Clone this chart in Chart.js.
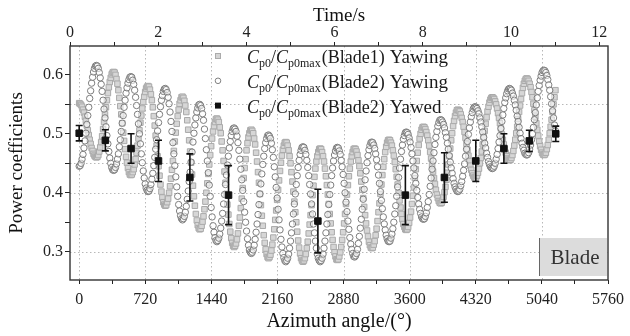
<!DOCTYPE html>
<html>
<head>
<meta charset="utf-8">
<script src="https://cdn.jsdelivr.net/npm/chart.js@4.4.0/dist/chart.umd.min.js"></script>
<style>
  html, body { margin: 0; padding: 0; background: #fff; }
  #chart { display: block; }
</style>
</head>
<body>
<canvas id="chart" width="630" height="336"></canvas>
<script>
// Azimuth between two samples of the yawing series (36 samples per oscillation)
var sampleStep = 375 / 36;

// Cp0/Cp0max (Blade1) Yawing - grey squares, one half oscillation per line
var blade1Yawing = [
    0.552, 0.551, 0.549, 0.546, 0.541, 0.536, 0.529, 0.522, 0.514, 0.506, 0.498, 0.490, 0.483, 0.476, 0.471, 0.466, 0.463, 0.461,
    0.460, 0.461, 0.464, 0.470, 0.477, 0.486, 0.496, 0.508, 0.520, 0.533, 0.545, 0.557, 0.569, 0.579, 0.588, 0.595, 0.601, 0.604,
    0.605, 0.604, 0.600, 0.593, 0.585, 0.574, 0.561, 0.547, 0.533, 0.518, 0.502, 0.488, 0.474, 0.461, 0.451, 0.442, 0.435, 0.431,
    0.430, 0.431, 0.435, 0.440, 0.448, 0.457, 0.468, 0.480, 0.492, 0.506, 0.519, 0.531, 0.543, 0.554, 0.563, 0.571, 0.577, 0.580,
    0.581, 0.580, 0.575, 0.567, 0.557, 0.545, 0.530, 0.514, 0.497, 0.480, 0.462, 0.445, 0.429, 0.414, 0.402, 0.392, 0.384, 0.380,
    0.378, 0.379, 0.384, 0.390, 0.400, 0.411, 0.424, 0.439, 0.454, 0.471, 0.487, 0.502, 0.517, 0.530, 0.541, 0.551, 0.557, 0.562,
    0.563, 0.561, 0.556, 0.548, 0.537, 0.523, 0.507, 0.489, 0.470, 0.451, 0.431, 0.412, 0.394, 0.378, 0.364, 0.353, 0.345, 0.340,
    0.338, 0.339, 0.344, 0.351, 0.360, 0.372, 0.385, 0.400, 0.416, 0.432, 0.448, 0.464, 0.479, 0.492, 0.504, 0.513, 0.520, 0.525,
    0.526, 0.524, 0.520, 0.511, 0.501, 0.487, 0.472, 0.454, 0.436, 0.417, 0.398, 0.380, 0.363, 0.347, 0.334, 0.323, 0.315, 0.310,
    0.308, 0.310, 0.314, 0.321, 0.331, 0.344, 0.358, 0.374, 0.390, 0.408, 0.425, 0.442, 0.457, 0.472, 0.484, 0.494, 0.501, 0.506,
    0.507, 0.505, 0.501, 0.492, 0.482, 0.468, 0.453, 0.435, 0.417, 0.398, 0.379, 0.361, 0.344, 0.328, 0.315, 0.304, 0.296, 0.291,
    0.289, 0.291, 0.295, 0.302, 0.312, 0.324, 0.338, 0.354, 0.370, 0.388, 0.405, 0.421, 0.437, 0.451, 0.463, 0.473, 0.480, 0.485,
    0.486, 0.485, 0.480, 0.472, 0.462, 0.450, 0.435, 0.419, 0.402, 0.385, 0.367, 0.350, 0.334, 0.319, 0.307, 0.297, 0.289, 0.285,
    0.283, 0.285, 0.289, 0.296, 0.306, 0.317, 0.331, 0.346, 0.362, 0.379, 0.396, 0.412, 0.427, 0.441, 0.453, 0.462, 0.469, 0.474,
    0.475, 0.474, 0.469, 0.462, 0.453, 0.441, 0.428, 0.413, 0.397, 0.381, 0.364, 0.348, 0.333, 0.320, 0.308, 0.299, 0.292, 0.287,
    0.286, 0.287, 0.292, 0.299, 0.308, 0.320, 0.333, 0.348, 0.364, 0.381, 0.397, 0.413, 0.428, 0.441, 0.453, 0.462, 0.469, 0.474,
    0.475, 0.474, 0.470, 0.464, 0.455, 0.445, 0.433, 0.419, 0.405, 0.391, 0.376, 0.362, 0.348, 0.336, 0.326, 0.317, 0.311, 0.307,
    0.306, 0.307, 0.312, 0.318, 0.328, 0.339, 0.352, 0.367, 0.382, 0.398, 0.414, 0.430, 0.444, 0.457, 0.469, 0.478, 0.485, 0.489,
    0.490, 0.489, 0.485, 0.480, 0.472, 0.463, 0.452, 0.440, 0.427, 0.414, 0.400, 0.387, 0.375, 0.364, 0.355, 0.347, 0.342, 0.338,
    0.337, 0.338, 0.342, 0.349, 0.358, 0.368, 0.381, 0.395, 0.409, 0.425, 0.440, 0.454, 0.468, 0.481, 0.492, 0.500, 0.507, 0.511,
    0.512, 0.511, 0.508, 0.503, 0.497, 0.489, 0.480, 0.469, 0.458, 0.447, 0.436, 0.425, 0.415, 0.405, 0.397, 0.391, 0.386, 0.383,
    0.382, 0.383, 0.387, 0.393, 0.401, 0.410, 0.422, 0.434, 0.448, 0.462, 0.475, 0.489, 0.501, 0.513, 0.522, 0.530, 0.536, 0.540,
    0.541, 0.540, 0.538, 0.533, 0.527, 0.520, 0.512, 0.503, 0.493, 0.483, 0.473, 0.463, 0.454, 0.446, 0.439, 0.433, 0.429, 0.426,
    0.425, 0.426, 0.429, 0.434, 0.441, 0.450, 0.459, 0.470, 0.482, 0.494, 0.505, 0.517, 0.528, 0.538, 0.546, 0.553, 0.558, 0.561,
    0.562, 0.561, 0.559, 0.555, 0.550, 0.543, 0.535, 0.527, 0.518, 0.509, 0.499, 0.490, 0.482, 0.474, 0.468, 0.462, 0.458, 0.456,
    0.455, 0.456, 0.459, 0.464, 0.471, 0.480, 0.490, 0.501, 0.512, 0.525, 0.537, 0.548, 0.559, 0.569, 0.578, 0.585, 0.590, 0.593,
    0.594, 0.593, 0.590, 0.585, 0.579, 0.571, 0.562, 0.551, 0.540, 0.529, 0.518, 0.507, 0.497, 0.487, 0.479, 0.473, 0.468, 0.465,
    0.464, 0.465, 0.468, 0.474, 0.481, 0.490, 0.501, 0.512, 0.524, 0.537, 0.550, 0.562, 0.574
];

// Cp0/Cp0max (Blade2) Yawing - open circles, one half oscillation per line
var blade2Yawing = [
    0.445, 0.446, 0.450, 0.457, 0.465, 0.476, 0.488, 0.501, 0.516, 0.531, 0.545, 0.560, 0.573, 0.586, 0.596, 0.605, 0.611, 0.615,
    0.616, 0.615, 0.611, 0.604, 0.595, 0.584, 0.572, 0.557, 0.542, 0.527, 0.512, 0.497, 0.483, 0.470, 0.459, 0.450, 0.443, 0.439,
    0.438, 0.439, 0.443, 0.449, 0.457, 0.466, 0.478, 0.490, 0.504, 0.518, 0.531, 0.545, 0.557, 0.569, 0.578, 0.586, 0.592, 0.596,
    0.597, 0.596, 0.591, 0.584, 0.574, 0.562, 0.548, 0.533, 0.517, 0.500, 0.483, 0.466, 0.451, 0.437, 0.425, 0.415, 0.408, 0.404,
    0.402, 0.403, 0.407, 0.414, 0.423, 0.433, 0.446, 0.460, 0.474, 0.490, 0.505, 0.519, 0.533, 0.546, 0.557, 0.565, 0.572, 0.576,
    0.577, 0.575, 0.570, 0.562, 0.551, 0.537, 0.521, 0.504, 0.485, 0.466, 0.446, 0.427, 0.410, 0.394, 0.380, 0.369, 0.361, 0.356,
    0.354, 0.356, 0.360, 0.367, 0.377, 0.389, 0.403, 0.419, 0.435, 0.452, 0.469, 0.486, 0.501, 0.515, 0.527, 0.537, 0.544, 0.549,
    0.550, 0.548, 0.543, 0.534, 0.523, 0.508, 0.492, 0.473, 0.454, 0.434, 0.413, 0.394, 0.375, 0.359, 0.344, 0.333, 0.324, 0.319,
    0.317, 0.319, 0.323, 0.330, 0.340, 0.352, 0.365, 0.381, 0.397, 0.414, 0.430, 0.447, 0.462, 0.476, 0.487, 0.497, 0.504, 0.509,
    0.510, 0.508, 0.504, 0.496, 0.485, 0.472, 0.457, 0.440, 0.422, 0.404, 0.385, 0.367, 0.350, 0.335, 0.322, 0.311, 0.303, 0.299,
    0.297, 0.299, 0.303, 0.311, 0.321, 0.333, 0.347, 0.363, 0.380, 0.398, 0.415, 0.432, 0.448, 0.462, 0.475, 0.485, 0.492, 0.497,
    0.498, 0.496, 0.492, 0.484, 0.473, 0.460, 0.444, 0.427, 0.409, 0.391, 0.372, 0.354, 0.337, 0.321, 0.308, 0.297, 0.290, 0.285,
    0.283, 0.285, 0.289, 0.296, 0.306, 0.318, 0.332, 0.347, 0.364, 0.381, 0.398, 0.414, 0.429, 0.443, 0.455, 0.465, 0.472, 0.477,
    0.478, 0.477, 0.472, 0.465, 0.455, 0.443, 0.429, 0.414, 0.398, 0.381, 0.364, 0.347, 0.332, 0.318, 0.306, 0.296, 0.289, 0.285,
    0.283, 0.285, 0.289, 0.296, 0.306, 0.318, 0.332, 0.347, 0.363, 0.380, 0.397, 0.413, 0.429, 0.442, 0.454, 0.464, 0.471, 0.476,
    0.477, 0.476, 0.471, 0.465, 0.455, 0.444, 0.431, 0.416, 0.400, 0.384, 0.368, 0.352, 0.338, 0.324, 0.313, 0.304, 0.297, 0.292,
    0.291, 0.293, 0.297, 0.304, 0.314, 0.326, 0.340, 0.355, 0.372, 0.389, 0.406, 0.422, 0.437, 0.451, 0.463, 0.473, 0.480, 0.485,
    0.486, 0.485, 0.481, 0.475, 0.466, 0.456, 0.444, 0.430, 0.416, 0.402, 0.387, 0.373, 0.359, 0.347, 0.337, 0.328, 0.322, 0.318,
    0.317, 0.318, 0.323, 0.330, 0.339, 0.350, 0.364, 0.378, 0.394, 0.410, 0.426, 0.442, 0.457, 0.470, 0.481, 0.491, 0.497, 0.502,
    0.503, 0.502, 0.499, 0.493, 0.486, 0.477, 0.466, 0.454, 0.442, 0.429, 0.416, 0.404, 0.392, 0.381, 0.372, 0.365, 0.359, 0.356,
    0.355, 0.356, 0.360, 0.366, 0.375, 0.385, 0.397, 0.411, 0.425, 0.440, 0.454, 0.468, 0.482, 0.494, 0.504, 0.513, 0.519, 0.523,
    0.524, 0.523, 0.520, 0.516, 0.510, 0.502, 0.494, 0.484, 0.474, 0.463, 0.452, 0.442, 0.433, 0.424, 0.416, 0.410, 0.406, 0.403,
    0.402, 0.403, 0.406, 0.412, 0.419, 0.428, 0.438, 0.449, 0.462, 0.474, 0.487, 0.499, 0.510, 0.520, 0.529, 0.536, 0.542, 0.545,
    0.546, 0.545, 0.543, 0.539, 0.534, 0.527, 0.520, 0.512, 0.503, 0.494, 0.484, 0.476, 0.467, 0.460, 0.453, 0.448, 0.444, 0.442,
    0.441, 0.442, 0.445, 0.450, 0.457, 0.465, 0.475, 0.486, 0.497, 0.509, 0.521, 0.532, 0.543, 0.553, 0.561, 0.568, 0.573, 0.576,
    0.577, 0.576, 0.574, 0.569, 0.564, 0.557, 0.549, 0.540, 0.530, 0.521, 0.511, 0.501, 0.492, 0.484, 0.477, 0.472, 0.467, 0.465,
    0.464, 0.465, 0.468, 0.474, 0.481, 0.490, 0.500, 0.511, 0.524, 0.536, 0.549, 0.561, 0.572, 0.582, 0.591, 0.598, 0.604, 0.607,
    0.608, 0.607, 0.604, 0.599, 0.592, 0.583, 0.574, 0.563, 0.551, 0.539, 0.527, 0.515, 0.505
];

// Cp0/Cp0max (Blade2) Yawed - black squares with error bars
var yawedAzimuth = [0, 285, 565, 864, 1206, 1627, 2600, 3553, 3978, 4320, 4626, 4903, 5191];
var yawedMean = [0.501, 0.489, 0.475, 0.454, 0.426, 0.396, 0.352, 0.396, 0.426, 0.454, 0.475, 0.488, 0.500];
var yawedError = [0.013, 0.018, 0.025, 0.035, 0.040, 0.050, 0.054, 0.050, 0.042, 0.035, 0.025, 0.018, 0.013];

// Axis ticks
var azimuthTicks = [0, 360, 720, 1080, 1440, 1800, 2160, 2520, 2880, 3240, 3600, 3960, 4320, 4680, 5040, 5400, 5760];
var azimuthTickLabels = [0, 720, 1440, 2160, 2880, 3600, 4320, 5040, 5760];
var timeTicks = [0, 1, 2, 3, 4, 5, 6, 7, 8, 9, 10, 11, 12];
var timeTickLabels = [0, 2, 4, 6, 8, 10, 12];
var powerTicks = [0.3, 0.35, 0.4, 0.45, 0.5, 0.55, 0.6];
var powerTickLabels = [0.3, 0.4, 0.5, 0.6];
var gridPowerValues = [0.3, 0.4, 0.45, 0.55];
var gridAzimuthValues = [0, 720, 1440, 2160, 2880, 3600, 4320, 5040];

// Legend text
var legendBlades = ['(Blade1)', '(Blade2)', '(Blade2)'];
var legendStates = ['Yawing', 'Yawing', 'Yawed'];
var boxLabel = 'Blade';

var serif = '"Liberation Serif", "Times New Roman", serif';
Chart.defaults.font.family = serif;
Chart.defaults.color = '#222';

function toPoints(values) {
    return values.map(function (v, i) { return { x: i * sampleStep, y: v }; });
}

var yawedPoints = yawedAzimuth.map(function (a, i) { return { x: a, y: yawedMean[i] }; });

function setTicks(list) {
    return function (scale) {
        scale.ticks = list.map(function (v) { return { value: v }; });
    };
}

function drawMarker(ctx, kind, x, y) {
    ctx.save();
    ctx.lineWidth = 1;
    if (kind === 0) {
        ctx.fillStyle = '#d4d4d4';
        ctx.strokeStyle = '#ababab';
        ctx.fillRect(x - 2.5, y - 2.5, 5, 5);
        ctx.strokeRect(x - 2.5, y - 2.5, 5, 5);
    } else if (kind === 1) {
        ctx.strokeStyle = '#808080';
        ctx.beginPath();
        ctx.arc(x, y, 2.8, 0, Math.PI * 2);
        ctx.stroke();
    } else {
        ctx.fillStyle = '#111';
        ctx.fillRect(x - 3, y - 3, 6, 6);
    }
    ctx.restore();
}

var decorPlugin = {
    id: 'decor',
    beforeDatasetsDraw: function (chart) {
        var ctx = chart.ctx, area = chart.chartArea;
        var xs = chart.scales.x, ys = chart.scales.y;
        ctx.save();
        ctx.strokeStyle = '#b8b8b8';
        ctx.lineWidth = 1;
        ctx.setLineDash([1.5, 2.5]);
        gridPowerValues.forEach(function (v) {
            var py = Math.round(ys.getPixelForValue(v)) + 0.5;
            ctx.beginPath();
            ctx.moveTo(area.left, py);
            ctx.lineTo(area.right, py);
            ctx.stroke();
        });
        gridAzimuthValues.forEach(function (v) {
            var px = Math.round(xs.getPixelForValue(v)) + 0.5;
            ctx.beginPath();
            ctx.moveTo(px, area.top);
            ctx.lineTo(px, area.bottom);
            ctx.stroke();
        });
        ctx.restore();
    },
    beforeDatasetDraw: function (chart, args) {
        if (args.index !== 2) return;
        var ctx = chart.ctx;
        var xs = chart.scales.x, ys = chart.scales.y;
        ctx.save();
        ctx.strokeStyle = '#111';
        ctx.lineWidth = 1.6;
        yawedAzimuth.forEach(function (a, i) {
            var px = xs.getPixelForValue(a);
            var top = ys.getPixelForValue(yawedMean[i] + yawedError[i]);
            var bot = ys.getPixelForValue(yawedMean[i] - yawedError[i]);
            ctx.beginPath();
            ctx.moveTo(px, top);
            ctx.lineTo(px, bot);
            ctx.moveTo(px - 3.5, top);
            ctx.lineTo(px + 3.5, top);
            ctx.moveTo(px - 3.5, bot);
            ctx.lineTo(px + 3.5, bot);
            ctx.stroke();
        });
        ctx.restore();
    },
    afterDraw: function (chart) {
        var ctx = chart.ctx, area = chart.chartArea;
        ctx.save();

        // "Blade" box
        ctx.fillStyle = '#dcdcdc';
        ctx.fillRect(539, 238, 68, 38);
        ctx.strokeStyle = '#666';
        ctx.lineWidth = 1;
        ctx.beginPath();
        ctx.moveTo(539.5, 238);
        ctx.lineTo(539.5, 276);
        ctx.stroke();
        ctx.fillStyle = '#333';
        ctx.font = '21px ' + serif;
        ctx.textAlign = 'center';
        ctx.textBaseline = 'middle';
        ctx.fillText(boxLabel, 575, 258);

        // frame
        ctx.strokeStyle = '#333';
        ctx.lineWidth = 1.4;
        ctx.strokeRect(area.left, area.top, area.right - area.left, area.bottom - area.top);

        // legend
        ctx.textAlign = 'left';
        ctx.textBaseline = 'alphabetic';
        ctx.fillStyle = '#1a1a1a';
        for (var r = 0; r < legendStates.length; r++) {
            var mid = 57 + r * 24.8;
            var base = mid + 6;
            var cx = 247;
            drawMarker(ctx, r, 218, mid - 1);
            ctx.font = 'italic 18px ' + serif;
            ctx.fillText('C', cx, base);
            cx += ctx.measureText('C').width;
            ctx.font = '12px ' + serif;
            ctx.fillText('p0', cx, base + 4);
            cx += ctx.measureText('p0').width;
            ctx.font = '18px ' + serif;
            ctx.fillText('/', cx, base);
            cx += ctx.measureText('/').width;
            ctx.font = 'italic 18px ' + serif;
            ctx.fillText('C', cx, base);
            cx += ctx.measureText('C').width;
            ctx.font = '12px ' + serif;
            ctx.fillText('p0max', cx, base + 4);
            cx += ctx.measureText('p0max').width + 1;
            ctx.font = '18px ' + serif;
            ctx.fillText(legendBlades[r], cx, base);
            cx += ctx.measureText(legendBlades[r]).width + 5;
            ctx.font = '19px ' + serif;
            ctx.fillText(legendStates[r], cx, base);
        }
        ctx.restore();
    }
};

var ctx = document.getElementById('chart').getContext('2d');
var chart = new Chart(ctx, {
    type: 'scatter',
    data: {
        datasets: [{
            label: 'Blade1 Yawing',
            data: toPoints(blade1Yawing),
            pointStyle: 'rect',
            pointRadius: 3.9,
            backgroundColor: '#d6d6d6',
            borderColor: '#aaaaaa',
            borderWidth: 1,
            order: 2
        }, {
            label: 'Blade2 Yawing',
            data: toPoints(blade2Yawing),
            pointStyle: 'circle',
            pointRadius: 3.2,
            backgroundColor: 'rgba(255,255,255,0.5)',
            borderColor: '#7d7d7d',
            borderWidth: 1,
            order: 1
        }, {
            label: 'Blade2 Yawed',
            data: yawedPoints,
            pointStyle: 'rect',
            pointRadius: 4.6,
            backgroundColor: '#111',
            borderColor: '#111',
            borderWidth: 1,
            order: 0
        }]
    },
    options: {
        responsive: false,
        animation: false,
        devicePixelRatio: 1,
        layout: { padding: { left: 0, right: 17, top: 0, bottom: 0 } },
        plugins: {
            legend: { display: false },
            tooltip: { enabled: false }
        },
        scales: {
            x: {
                type: 'linear',
                position: 'bottom',
                min: -100,
                max: 5760,
                afterBuildTicks: setTicks(azimuthTicks),
                afterFit: function (scale) { scale.height = 56; },
                border: { display: false },
                grid: { drawOnChartArea: false, tickLength: 4, tickColor: '#222' },
                ticks: {
                    autoSkip: false,
                    maxRotation: 0,
                    padding: 6,
                    font: { size: 16 },
                    callback: function (v) { return azimuthTickLabels.indexOf(v) >= 0 ? String(v) : ''; }
                },
                title: {
                    display: true,
                    text: 'Azimuth angle/(°)',
                    font: { size: 20 },
                    color: '#111',
                    padding: { top: 0, bottom: 2 }
                }
            },
            x2: {
                type: 'linear',
                position: 'top',
                min: 0,
                max: 12.2,
                afterBuildTicks: setTicks(timeTicks),
                afterFit: function (scale) { scale.height = 46; },
                border: { display: false },
                grid: { drawOnChartArea: false, tickLength: 4, tickColor: '#222' },
                ticks: {
                    autoSkip: false,
                    maxRotation: 0,
                    padding: 0,
                    font: { size: 16 },
                    callback: function (v) { return timeTickLabels.indexOf(v) >= 0 ? String(v) : ''; }
                },
                title: {
                    display: true,
                    text: 'Time/s',
                    font: { size: 19 },
                    color: '#111',
                    padding: { top: 5, bottom: 0 }
                }
            },
            y: {
                type: 'linear',
                position: 'left',
                min: 0.252,
                max: 0.649,
                afterBuildTicks: setTicks(powerTicks),
                afterFit: function (scale) { scale.width = 70; },
                border: { display: false },
                grid: { drawOnChartArea: false, tickLength: 5, tickColor: '#222' },
                ticks: {
                    autoSkip: false,
                    padding: 2,
                    font: { size: 16 },
                    callback: function (v) { return powerTickLabels.indexOf(v) >= 0 ? v.toFixed(1) : ''; }
                },
                title: {
                    display: true,
                    text: 'Power coefficients',
                    font: { size: 19 },
                    color: '#111',
                    padding: { top: 6, bottom: 0 }
                }
            }
        }
    },
    plugins: [decorPlugin]
});
</script>
</body>
</html>
